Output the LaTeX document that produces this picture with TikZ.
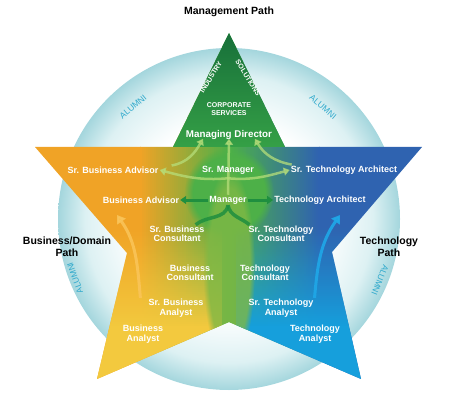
\documentclass[tikz,border=0pt]{standalone}
\usepackage{fontspec}
\setmainfont{Liberation Sans}
\usepackage{tikz}
\usetikzlibrary{arrows.meta,positioning,fadings}
\definecolor{orng}{HTML}{F0A326}
\definecolor{yel}{HTML}{F3C93E}
\definecolor{grn}{HTML}{4DB048}
\definecolor{dkgrn}{HTML}{17703A}
\definecolor{midgrn}{HTML}{35A046}
\definecolor{blu}{HTML}{2F63B0}
\definecolor{cyn}{HTML}{169FDC}
\definecolor{ring}{HTML}{A4D6DD}
\definecolor{ringlt}{HTML}{DDF1F3}
\definecolor{alum}{HTML}{2FA9CC}
\definecolor{lgrn}{HTML}{B6DE7A}
\definecolor{arrgrn}{HTML}{1F8F3F}
\definecolor{oarrc}{HTML}{FAC55A}
\definecolor{barrc}{HTML}{1FA8E8}
\pgfdeclareradialshading{halo}{\pgfpointorigin}{color(0bp)=(white); color(14bp)=(white); color(21bp)=(ringlt); color(25bp)=(ring); color(50bp)=(ring)}
\pgfdeclarelayer{bg}
\pgfdeclarelayer{arr}
\pgfsetlayers{bg,arr,main}
\tikzset{
  lbl/.style={text=white, font=\bfseries\fontsize{9}{9.5}\selectfont, align=center, inner sep=1pt},
  pathlbl/.style={text=black, font=\bfseries\fontsize{10.5}{12}\selectfont, align=center, inner sep=1pt},
  caps/.style={text=white, font=\bfseries\fontsize{7}{8}\selectfont, align=center, inner sep=1pt},
  alumni/.style={text=alum, font=\fontsize{8.5}{9}\selectfont, inner sep=1pt},
  lgarr/.style={-{Triangle[width=8pt,length=6pt]}, line width=2.5pt, lgrn, opacity=.75},
  dgarr/.style={-{Triangle[width=8pt,length=6pt]}, line width=3pt, arrgrn},
  dgline/.style={line width=3.5pt, arrgrn, opacity=.85},
  oarr/.style={-{Triangle[width=10pt,length=8pt]}, line width=3pt, oarrc, opacity=.85},
  barr/.style={-{Triangle[width=10pt,length=8pt]}, line width=3pt, barrc, opacity=.9},
}

\begin{document}
\begin{tikzpicture}[x=1pt,y=1pt]
\useasboundingbox (0,0) rectangle (454,418);
% halo and star
\begin{pgfonlayer}{bg}
\shade[shading=halo] (229,199) circle (171);
\begin{scope}
\clip (229,385) -- (285,271) -- (422,271) -- (332,166) -- (361,39) -- (229,96)
  -- (97,39) -- (127,165) -- (35,271) -- (173,271) -- cycle;
\fill[orng] (30,39) rectangle (141,385);
\fill[blu] (319,39) rectangle (425,385);
\foreach \i in {0,...,44} {
  \pgfmathtruncatemacro\q{100-\i*100/44}
  \fill[orng!\q!grn] (140+2*\i,39) rectangle ++(2.4,346);
  \fill[grn!\q!blu] (230+2*\i,39) rectangle ++(2.4,346);
}
\fill[grn, path fading=circle with fuzzy edge 20 percent] (229,225) circle (45);
% yellow and cyan legs
\fill[yel] (35,39) rectangle (222,90);
\fill[cyn] (236,39) rectangle (422,90);
\foreach \j in {0,...,49} {
  \pgfmathsetmacro\op{1-\j/50}
  \fill[yel, opacity=\op] (35,90+2*\j) rectangle (222,92+2*\j);
  \fill[cyn, opacity=\op] (236,90+2*\j) rectangle (422,92+2*\j);
}
\fill[grn!70!yel, opacity=.8, path fading=circle with fuzzy edge 20 percent] (229,150) ellipse (26 and 100);
\shade[top color=dkgrn, bottom color=midgrn] (173,271) -- (229,385) -- (285,271) -- cycle;
\end{scope}
\end{pgfonlayer}
% path titles
\node[pathlbl] (mpath) at (229,406) {Management Path};
\node[pathlbl] (bpath) at (67,171) {Business/Domain\\Path};
\node[pathlbl] (tpath) at (389,171) {Technology\\Path};
\node[caps, rotate=58] (ind) at (211,341) {INDUSTRY};
\node[caps, rotate=-58] (sol) at (248,340) {SOLUTIONS};
\node[caps] (corp) at (229,309) {CORPORATE\\SERVICES};
\node[lbl, font=\bfseries\fontsize{9.8}{11}\selectfont] (md) at (229,283) {Managing Director};
% roles
\foreach \nm/\x/\y/\txt in {srba/113/248/{Sr. Business Advisor}, srmgr/228/248/{Sr. Manager},
    srta/344/248/{Sr. Technology Architect}, ba/141/218/{Business Advisor}, mgr/228/218/{Manager},
    ta/320/218/{Technology Architect}, srbc/177/184/{Sr. Business\\Consultant},
    srtc/281/184/{Sr. Technology\\Consultant}, bc/190/145/{Business\\Consultant},
    tc/265/145/{Technology\\Consultant}, srban/176/110/{Sr. Business\\Analyst},
    srtan/281/110/{Sr. Technology\\Analyst}, ban/143/84/{Business\\Analyst},
    tan/315/84/{Technology\\Analyst}}
  \node[lbl] (\nm) at (\x,\y) {\txt};
% alumni ring
\foreach \nm/\x/\y/\r in {al1/133/311/40, al2/323/311/-40, al3/75/140/110, al4/380/138/248}
  \node[alumni, rotate=\r] (\nm) at (\x,\y) {ALUMNI};
\coordinate (ohead) at (117,203);
\coordinate (bhead) at (340,203);
% arrows
\begin{pgfonlayer}{arr}
\draw[lgarr] (mgr.north) -- ([yshift=2pt]md.south);
\draw[lgarr] ([xshift=12pt]srba.north east) to[out=10,in=-120] ([xshift=-26pt,yshift=2pt]md.south);
\draw[lgarr] ([xshift=2pt]srta.north west) to[out=170,in=-60] ([xshift=26pt,yshift=2pt]md.south);
\draw[lgarr] ([yshift=-3pt]srmgr.south) to[out=185,in=-15] (srba.east);
\draw[lgarr] ([yshift=-3pt]srmgr.south) to[out=-5,in=195] (srta.west);
\draw[dgarr] (mgr.west) -- (ba.east);
\draw[dgarr] (mgr.east) -- (ta.west);
\draw[dgline] (mgr.south) to[out=-100,in=40] ([xshift=-10pt]srbc.north east);
\draw[dgline] (mgr.south) to[out=-80,in=140] ([xshift=2pt]srtc.north west);
\draw[oarr] ([xshift=-7pt]srban.north west) to[out=95,in=-55] (ohead);
\draw[barr] (srtan.north east) to[out=85,in=-125] (bhead);
\end{pgfonlayer}
\end{tikzpicture}
\end{document}
